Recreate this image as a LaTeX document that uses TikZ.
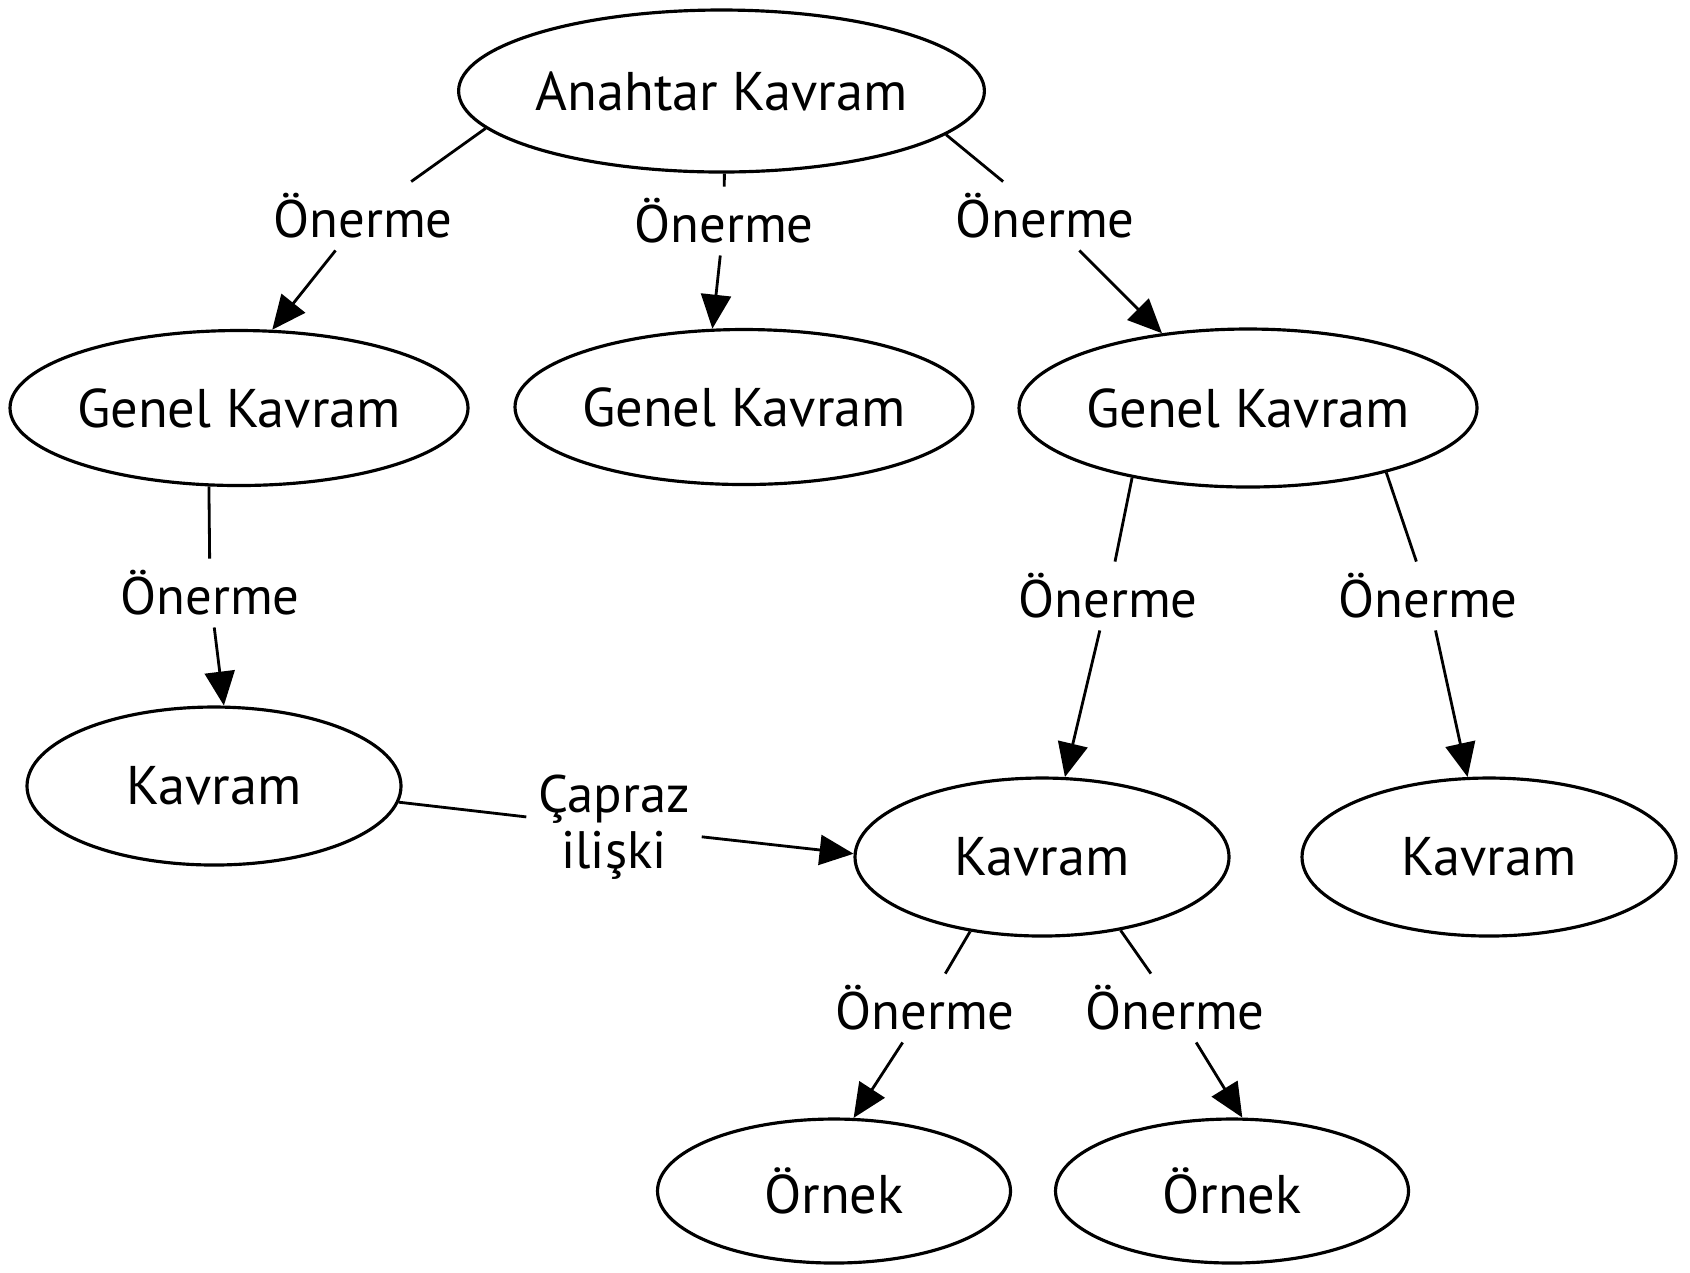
\documentclass[tikz,border=0pt]{standalone}
\usepackage{fontspec}
\setmainfont{PT Sans}
\usetikzlibrary{shapes.geometric,arrows.meta}

\begin{document}
\begin{tikzpicture}[line width=0.8pt]
   \tikzset{kavram/.style 2 args={draw, ellipse, line width=0.9pt, inner sep=0pt, minimum width=#1cm, minimum height=#2cm, font=\fontsize{15.5}{18}\selectfont}};
   \tikzset{lbl/.style={inner sep=3pt, font=\fontsize{15}{16}\selectfont, align=center}};
   \tikzset{ok/.style={-{Triangle[length=0.34cm,width=0.3cm]}}};

\useasboundingbox (0,0) rectangle (16.9,-12.72);

\node[kavram={4.78}{1.62}] (a) at (7.215,-0.91) {Anahtar Kavram};

\node[kavram={4.58}{1.55}] (g1) at (2.39,-4.08) {Genel Kavram};
\node[kavram={4.58}{1.55}] (g2) at (7.44,-4.07) {Genel Kavram};
\node[kavram={4.58}{1.58}] (g3) at (12.48,-4.08) {Genel Kavram};

\node[kavram={3.74}{1.58}] (k1) at (2.14,-7.86) {Kavram};
\node[kavram={3.74}{1.58}] (k2) at (10.42,-8.57) {Kavram};
\node[kavram={3.74}{1.58}] (k3) at (14.89,-8.57) {Kavram};

\node[kavram={3.53}{1.44}] (o1) at (8.34,-11.91) {Örnek};
\node[kavram={3.53}{1.44}] (o2) at (12.32,-11.91) {Örnek};

%labels-----------------------
\node[lbl] (l1) at (3.63,-2.16) {Önerme};
\node[lbl] (l2) at (7.24,-2.21) {Önerme};
\node[lbl] (l3) at (10.45,-2.16) {Önerme};
\node[lbl] (l4) at (2.10,-5.93) {Önerme};
\node[lbl] (l5) at (11.08,-5.96) {Önerme};
\node[lbl] (l6) at (14.28,-5.96) {Önerme};
\node[lbl] (l7) at (9.25,-10.08) {Önerme};
\node[lbl] (l8) at (11.75,-10.08) {Önerme};
\node[lbl] (c) at (6.14,-8.27) {Çapraz\\ilişki};

%Ea--------------------------
\draw (a.189) -- (l1);
\draw[ok] (l1) -- (g1.67);
\draw (a.272) -- (l2);
\draw[ok] (l2) -- (g2.112);
\draw (a.349) -- (l3);
\draw[ok] (l3) -- (g3.139);

%Eg--------------------------
\draw (g1.249) -- (l4);
\draw[ok] (l4) -- (k1.83);
\draw (g3.211) -- (l5);
\draw[ok] (l5) -- (k2.74);
\draw (g3.335) -- (l6);
\draw[ok] (l6) -- (k3.105);

%Ek--------------------------
\draw (k1.355) -- (c);
\draw[ok] (c) -- (k2.179);
\draw (k2.226) -- (l7);
\draw[ok] (l7) -- (o1.75);
\draw (k2.317) -- (l8);
\draw[ok] (l8) -- (o2.82);

\end{tikzpicture}
\end{document}
